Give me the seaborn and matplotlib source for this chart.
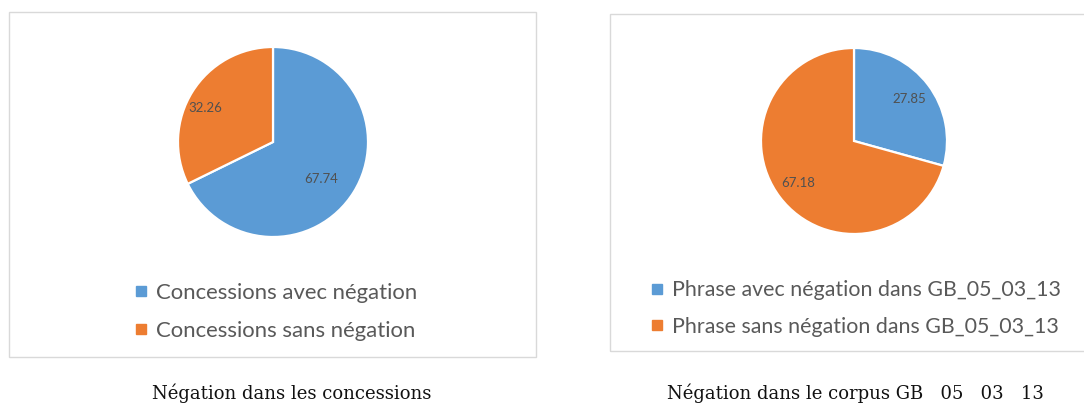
import numpy as np
import matplotlib
matplotlib.use("Agg")
import matplotlib.pyplot as plt
from matplotlib.patches import Rectangle
from matplotlib.lines import Line2D
import seaborn as sns

sns.set_theme(style="white")
plt.rcParams['font.family'] = ['Lato', 'DejaVu Sans']

# Data
left_labels = ["Concessions avec négation", "Concessions sans négation"]
left_values = [67.74, 32.26]
right_labels = ["Phrase avec négation dans GB_05_03_13",
                "Phrase sans négation dans GB_05_03_13"]
right_values = [27.85, 67.18]
captions = ["Négation dans les concessions",
            "Négation dans le corpus GB   05   03   13"]

palette = ["#5B9BD5", "#ED7D31"]
W, H = 1084, 403
fig = plt.figure(figsize=(W / 100, H / 100), dpi=100)
fig.patch.set_facecolor("white")


def fx(px):
    return px / W


def fy(py):
    return 1 - py / H


def panel(x0, y0, x1, y1):
    fig.patches.append(Rectangle((fx(x0), fy(y1)), fx(x1 - x0), (y1 - y0) / H,
                                 transform=fig.transFigure, fill=False,
                                 edgecolor="#d9d9d9", linewidth=1.0))


def pie(cx, cy, r, values, label_dist, label_shift):
    ax = fig.add_axes([fx(cx - r), fy(cy + r), fx(2 * r), 2 * r / H])
    wedges, _ = ax.pie(values, colors=palette, startangle=90, counterclock=False,
                       radius=1.0,
                       wedgeprops=dict(edgecolor="white", linewidth=1.6))
    for w, v, d, s in zip(wedges, values, label_dist, label_shift):
        mid = np.deg2rad((w.theta1 + w.theta2) / 2 + s)
        ax.text(d * np.cos(mid), d * np.sin(mid), f"{v:.2f}",
                ha="center", va="center", fontsize=9.5, color="#505050")
    ax.set_xlim(-1, 1)
    ax.set_ylim(-1, 1)
    ax.set_aspect("equal")
    ax.axis("off")
    return ax


def legend(x, y, labels, size, spacing):
    handles = [Line2D([], [], marker="s", linestyle="none", markersize=7.5,
                      markerfacecolor=c, markeredgecolor=c) for c in palette]
    fig.legend(handles, labels, loc="upper left",
               bbox_to_anchor=(fx(x), fy(y)), frameon=False, fontsize=size,
               labelcolor="#595959", handlelength=0.6, handletextpad=0.4,
               labelspacing=spacing, borderpad=0, borderaxespad=0)


panel(9, 12, 536, 357)
panel(610, 14, 1100, 351)

pie(273, 142, 95, left_values, [0.64, 0.80], [-6, 5])
pie(854, 141, 93, right_values, [0.75, 0.75], [0, 0])

legend(134, 283, left_labels, 15.9, 0.8)
legend(651, 280, right_labels, 15.4, 0.78)

fig.text(fx(292), fy(393), captions[0], ha="center", va="center",
         fontsize=13, family="DejaVu Serif", color="#111111")
fig.text(fx(855), fy(393), captions[1], ha="center", va="center",
         fontsize=13, family="DejaVu Serif", color="#111111")

fig.savefig("out.png", dpi=100)
